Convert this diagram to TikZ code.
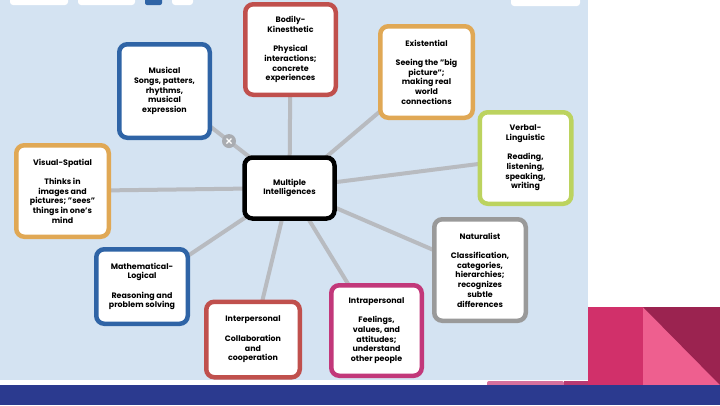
\documentclass[tikz,border=0pt]{standalone}
\usepackage{fontspec}
\setmainfont{Poppins}
\usetikzlibrary{backgrounds,calc}
\definecolor{bgblue}{HTML}{D4E3F2}
\definecolor{cred}{HTML}{C0504D}
\definecolor{cblue}{HTML}{2F64A6}
\definecolor{corange}{HTML}{E0A855}
\definecolor{cgreen}{HTML}{BCD35F}
\definecolor{cgray}{HTML}{9A9A9A}
\definecolor{cmagenta}{HTML}{C2387A}
\definecolor{linkgray}{HTML}{B8BBC0}
\definecolor{band}{HTML}{2B3A8F}
\definecolor{pinkA}{HTML}{D1306A}
\definecolor{pinkB}{HTML}{EE5F8F}
\definecolor{pinkC}{HTML}{9B2350}
\definecolor{pinkD}{HTML}{D7709D}
\definecolor{pinkE}{HTML}{B93A72}
\newcommand{\gap}{\\[9.7pt]}
\tikzset{
  idea/.style={draw=#1, fill=white, line width=4.5pt, rounded corners=8pt,
    align=center, font=\fontsize{7.9}{9.7}\selectfont\bfseries, inner sep=1pt},
  link/.style={draw=linkgray, line width=4pt},
  toolbtn/.style={fill=white, rounded corners=3pt}
}
\begin{document}
\begin{tikzpicture}[x=1pt,y=-1pt]
\useasboundingbox (0,0) rectangle (720,405);
% nodes
\node[idea=black, minimum width=90pt, minimum height=61pt] (mi) at (289.5,188) {Multiple\\Intelligences};
\node[idea=cred, minimum width=90.5pt, minimum height=90.5pt] (bk) at (290.5,49.5)
  {Bodily-\\Kinesthetic\gap Physical\\interactions;\\concrete\\experiences};
\node[idea=cblue, minimum width=90.5pt, minimum height=93.5pt] (mu) at (164.5,91)
  {Musical\\Songs, patters,\\rhythms,\\musical\\expression};
\node[idea=corange, minimum width=92.5pt, minimum height=91.5pt] (ex) at (426.5,72)
  {Existential\gap Seeing the "big\\picture";\\making real\\world\\connections};
\node[idea=cgreen, minimum width=91.5pt, minimum height=91.5pt] (vl) at (525.5,158)
  {Verbal-\\Linguistic\gap Reading,\\listening,\\speaking,\\writing};
\node[idea=corange, minimum width=92.5pt, minimum height=91.5pt] (vs) at (62.5,191)
  {Visual-Spatial\gap Thinks in\\images and\\pictures; "sees"\\things in one's\\mind};
\node[idea=cgray, minimum width=91.5pt, minimum height=101.5pt] (na) at (480,270)
  {Naturalist\gap Classification,\\categories,\\hierarchies;\\recognizes\\subtle\\differences};
\node[idea=cblue, minimum width=91.5pt, minimum height=74.5pt] (ml) at (142,286.5)
  {Mathematical-\\Logical\gap Reasoning and\\problem solving};
\node[idea=cred, minimum width=93.5pt, minimum height=75.5pt] (ip) at (253,339.5)
  {Interpersonal\gap Collaboration\\and\\cooperation};
\node[idea=cmagenta, minimum width=90.5pt, minimum height=90.5pt] (ia) at (376.5,330.5)
  {Intrapersonal\gap Feelings,\\values, and\\attitudes;\\understand\\other people};
\begin{scope}[on background layer]
% background
\fill[white] (0,0) rectangle (720,405);
\fill[bgblue] (0,0) rectangle (588,380);
% toolbar pieces
\fill[toolbtn] (10,-6) rectangle (68,5);
\fill[toolbtn] (78,-6) rectangle (135,5);
\fill[cblue, rounded corners=2pt] (145,-6) rectangle (162,5);
\fill[toolbtn] (172,-6) rectangle (193,5);
\fill[toolbtn] (511,-6) rectangle (580,6);
% decorations bottom right
\fill[pinkA] (588,307) rectangle (643,385);
\fill[pinkB] (643,307) rectangle (720,385);
\fill[pinkC] (643,307) -- (720,307) -- (720,385) -- cycle;
\fill[pinkD, rounded corners=2pt] (487,381) rectangle (564,388);
\fill[pinkE] (564,381) rectangle (588,385);
\fill[band] (0,385) rectangle (720,405);
% connectors
\foreach \n in {bk,mu,ex,vl,vs,na,ml,ip,ia}
  \draw[link] (mi.center) -- (\n.center);
% close marker on the Musical link
\coordinate (xm) at ($(mi.center)!0.484!(mu.center)$);
\fill[linkgray!92!black] (xm) circle (7pt);
\draw[white, line width=1.3pt] ($(xm)+(-2.5,-2.5)$) -- ($(xm)+(2.5,2.5)$)
  ($(xm)+(-2.5,2.5)$) -- ($(xm)+(2.5,-2.5)$);
\end{scope}
\end{tikzpicture}
\end{document}
